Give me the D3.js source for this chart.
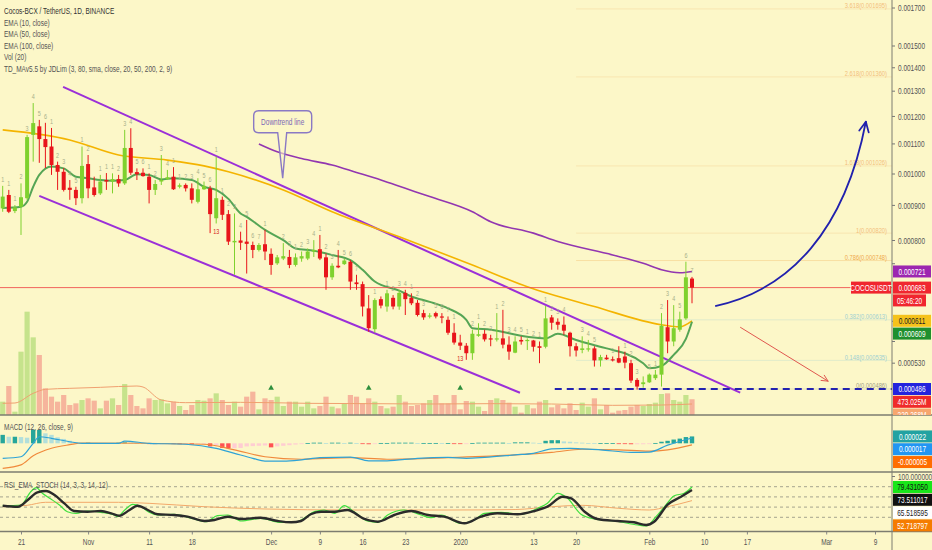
<!DOCTYPE html>
<html><head><meta charset="utf-8">
<script src="https://cdn.jsdelivr.net/npm/d3@7"></script>
<style>
html,body{margin:0;padding:0;background:#fcf7c8;}
svg{display:block;font-family:"Liberation Sans",Arial,sans-serif;}
</style></head><body>
<svg id="chart" width="932" height="550"></svg>
<script>
// ================= DATA =================
const U = 1e-6;                 // prices / MACD below are in millionths of USDT
const firstCandle = "2019-10-18"; // daily candles, one per day
const open  = [891,932,883,896,922,1132,1163,1117,1091,1029,1007,955,948,922,1032,956,937,980,975,983,969,1086,1006,1004,991,948,975,983,991,958,964,953,911,950,953,862,917,874,795,800,797,788,775,790,765,741,753,757,737,753,753,771,777,756,707,735,739,745,695,691,637,594,657,641,660,641,671,660,649,627,620,627,620,613,587,568,562,548,581,585,576,574,576,564,549,573,571,572,561,560,618,609,603,587,561,554,555,557,535,540,537,539,542,530,501,494,497,504,510,598,570,593,616,704];
const high  = [961,948,901,969,1132,1252,1187,1176,1157,1040,1019,980,958,1091,1062,991,997,1003,1002,997,1150,1156,1018,1018,1002,980,1062,1013,1022,969,969,969,986,975,961,1057,927,886,876,824,857,797,793,829,779,762,793,775,766,771,779,801,815,766,741,775,753,749,713,697,666,659,663,678,666,678,678,670,655,634,627,630,627,620,606,583,567,593,606,593,583,627,634,580,580,580,576,573,570,642,623,616,620,589,567,580,573,561,545,545,542,561,551,536,504,507,512,518,627,655,644,630,745,708];
const low   = [881,877,877,815,917,1040,1036,1019,997,948,943,917,901,906,922,927,932,948,937,958,964,997,980,991,906,932,964,980,948,953,943,906,906,948,820,847,857,788,713,775,716,754,771,749,713,737,749,729,733,745,749,757,749,678,701,729,737,678,678,620,589,587,637,630,635,634,623,644,620,613,616,616,606,583,564,554,536,536,579,570,561,570,557,536,548,564,554,551,530,557,593,593,583,542,542,548,551,524,524,536,533,530,521,496,485,488,496,501,490,548,561,589,613,648];
const close = [927,881,894,925,1124,1175,1117,1089,1029,1007,948,948,922,1026,953,932,975,975,983,969,1086,1004,999,993,948,967,980,989,950,963,953,917,950,961,874,922,872,797,799,794,791,775,788,771,737,756,759,737,756,759,771,775,753,707,735,731,748,697,691,641,596,655,643,670,641,671,657,648,623,618,622,620,618,587,568,562,548,585,584,574,574,576,564,551,570,570,573,560,558,616,607,603,591,561,553,557,557,535,541,537,535,531,531,500,490,497,510,510,601,570,596,614,707,683];
const volumeM = [400,870,100,1900,3100,2330,1800,800,550,400,600,300,350,450,500,430,200,430,500,300,930,600,270,200,500,450,470,350,400,270,150,300,450,430,500,650,450,300,400,250,550,700,170,500,450,550,270,400,400,250,400,200,270,550,250,200,350,600,550,350,500,400,270,200,250,600,400,270,300,350,450,600,350,350,600,170,420,400,250,120,450,500,450,370,250,70,300,200,400,450,230,300,200,350,150,370,250,500,170,300,70,130,150,250,300,270,330,370,630,650,450,400,600,473.025];
// indicator lines read at [candle index, value]
const ema10  = [[0,892],[3,896],[4,911],[5,958],[6,997],[8,1024],[10,1018],[12,991],[14,986],[16,980],[18,978],[20,980],[22,999],[24,997],[26,982],[28,986],[31,980],[33,958],[35,948],[37,920],[39,876],[40,866],[43,829],[46,801],[48,779],[51,773],[54,762],[57,749],[59,725],[61,697],[65,676],[67,663],[70,651],[73,637],[76,613],[77,596],[80,593],[86,579],[89,576],[91,585],[94,573],[97,563],[100,554],[102,548],[105,530],[106,521],[108,525],[110,545],[112,575],[113,609]];
const ema50  = [[0,1150],[11,1114],[19,1062],[27,1045],[33,1026],[37,1007],[46,948],[54,881],[65,810],[77,737],[86,685],[97,641],[108,603],[111,599],[113,611]];
const ema100 = [[42,1100],[45,1073],[49,1050],[54,1029],[58,1005],[62,980],[66,953],[70,927],[77,881],[80,852],[87,820],[91,797],[100,762],[105,741],[108,725],[111,718],[113,721]];
const volMA  = [[0,350],[2,360],[5,650],[7,770],[11,800],[16,830],[22,870],[23,840],[26,450],[30,370],[39,380],[50,350],[60,340],[70,330],[80,340],[90,330],[100,290],[108,300],[113,330]];
const macdHist = [27,21,21,20,18,43,43,32,27,19,14,8,3,1,2,1,0.5,0.5,1,2,3,2,1,0.5,-1,-2,-1,-1,-2,-3,-3,-4,-2,-2,-10,-6,-15,-16,-16,-15,-10,-9,-8,-7,-13,-10,-8,-6,-4,-2,1,2,2,1,2,2,1,2,1,-1,-3,-1,1,1,2,2,2,2,1,1,1,1,0.5,0.5,-1,-2,-2,1,2,2,2,2,2,1,3,3,3,2,1,8,10,10,6,5,3,2,1,0.5,0.5,0.5,0.5,-0.5,-1,-3,-3,-3,-1,1,5,8,12,15,20,22];
const macdLine = [[0,-48],[3,-43],[5,0],[6,21],[8,16],[11,5],[13,0],[19,0],[20,7],[24,0],[30,-3],[35,-16],[38,-32],[41,-48],[43,-57],[46,-57],[49,-53],[52,-46],[57,-44],[60,-56],[63,-56],[68,-48],[73,-45],[76,-48],[79,-45],[84,-37],[87,-32],[90,-18],[93,-16],[95,-18],[98,-21],[103,-29],[106,-28],[109,-6],[113,17]];
const macdSignal = [[0,-80],[3,-69],[5,-40],[8,-16],[11,-4.5],[13,1],[33,-3],[38,-21],[43,-43],[49,-51],[57,-46],[63,-51],[73,-46],[84,-37],[90,-29],[95,-19],[101,-21],[106,-25],[109,-21],[113,-5]];
const rsiK = [[0,42.7],[3,44.1],[4.6,70.2],[5.5,78],[6.5,67],[7.9,55.9],[9.3,44.1],[10.6,31],[12,27.8],[13.9,32.4],[16.1,29.8],[18.3,24.5],[18.8,21.2],[20,34.3],[21.3,45.5],[22.7,40.8],[24,29.8],[25.4,24.5],[28.1,25.9],[31.4,16.7],[33.3,11.4],[35.2,23.1],[36.9,24.5],[39.1,12.7],[42.3,18],[45.6,10.2],[47.8,10.2],[49.4,18],[51.1,31],[52.7,34.3],[54.4,27.8],[56,42.7],[57.6,31],[59.8,12.7],[61.5,10.2],[63.1,24.5],[65.8,34.3],[68.6,24.5],[70.2,19.2],[71.9,24.5],[75.1,8.2],[77.3,14.7],[79,27.8],[81.7,29.8],[85,25.9],[87.7,37.6],[89.3,47.4],[91,67],[92.6,57.3],[94.8,25.9],[97,16.7],[100.3,12.7],[104.1,4.9],[105.5,2.9],[107.1,21.2],[108.5,40.8],[110.1,62.4],[111.7,67],[113,79.4]];
const rsiD = [[0,42.7],[2.5,40.8],[4.1,53.9],[5.7,69],[7.1,71.6],[8.5,63.7],[10.1,47.4],[11.7,32.4],[13.9,31],[16.1,32.4],[17.8,27.8],[19.1,23.1],[20.8,34.3],[22.1,42.7],[23.8,34.3],[25.4,25.9],[28.1,24.5],[30.3,21.2],[33.1,12.7],[34.7,14.7],[36.9,21.2],[39.1,16.7],[42.3,19.2],[45.1,12.7],[47.3,10.2],[48.9,12.7],[50.5,25.9],[52.2,31],[54.4,31],[56.5,34.3],[59.3,16.7],[61.5,11.4],[64.2,24.5],[67,32.4],[69.7,24.5],[72.4,21.2],[75.7,8.2],[78.4,21.2],[81.1,27.8],[84.4,25.9],[87.2,32.4],[89.3,40.8],[91.8,60.4],[93.2,57.3],[95.4,31],[97.5,16.7],[100.8,12.7],[103.5,10.2],[105.5,4.9],[106.8,11.4],[109,44.7],[111.2,60.4],[113,73.5]];
const rsiSlow = [[0,40.8],[4,43.5],[7,49.4],[11,49.4],[19,49.4],[24,47.4],[33,40.8],[43,36.3],[57,34.3],[73,34.3],[84,35.2],[90,40.8],[95,43.5],[101,37.6],[106,34.3],[109,40.8],[113,52.7]];
const rsiLevels = [80,60,40,20];
const rsiBadgeValues = [79.43105,73.511017,65.518595,52.718797];
// TD sequential counts above candles [index, label]; red 13s below
const tdAbove = [[0,"1"],[1,"1"],[2,"1"],[3,"2"],[4,"3"],[5,"4"],[6,"5"],[7,"6"],[8,"1"],[9,"2"],[10,"3"],[11,"4"],[12,"5"],[13,"1"],[14,"2"],[16,"1"],[17,"1"],[18,"1"],[19,"2"],[20,"3"],[21,"4"],[22,"5"],[23,"6"],[24,"1"],[25,"2"],[26,"3"],[27,"4"],[28,"1"],[29,"1"],[30,"2"],[31,"3"],[32,"4"],[33,"5"],[34,"6"],[35,"1"],[36,"1"],[37,"2"],[38,"3"],[39,"4"],[40,"5"],[41,"6"],[42,"7"],[43,"1"],[46,"2"],[47,"3"],[48,"1"],[49,"2"],[50,"3"],[51,"4"],[52,"1"],[53,"2"],[54,"3"],[55,"4"],[56,"5"],[57,"6"],[58,"7"],[61,"1"],[63,"1"],[64,"2"],[65,"3"],[66,"4"],[67,"1"],[68,"2"],[69,"3"],[71,"5"],[72,"6"],[73,"7"],[74,"1"],[77,"2"],[78,"1"],[79,"2"],[80,"3"],[81,"1"],[82,"2"],[83,"3"],[84,"4"],[85,"5"],[86,"1"],[87,"2"],[88,"1"],[89,"1"],[90,"2"],[91,"3"],[92,"4"],[95,"3"],[96,"4"],[97,"5"],[100,"1"],[102,"1"],[103,"2"],[104,"3"],[106,"5"],[107,"1"],[108,"2"],[109,"3"],[110,"4"],[111,"5"],[112,"6"],[113,"7"]];
const tdBelowRed = [[35,"13"],[75,"13"]];
const buySignals = [44,60,75];
// drawings: [candle index, price in millionths]
const upperChannel = [[9.9,1318],[120.9,480]];
const lowerChannel = [[6.0,929],[84.8,480]];
const bullArc = [[116.8,642],[129.1,678],[138.1,829],[141.5,1180]];
const bearArrow = [[120.9,598],[135.3,499]];
const supportStart = [90.5,486];
const calloutTip = [45.9,986], calloutBox = [45.9,1180];
const calloutText = "Downtrend line";
const fibLevels = [3.618,2.618,1.618,1,0.786,0.382,0.148,0];
const fibPrices = [1695,1360,1026,820,748,613,535,486];
const fibStart = 94;
const priceTicks = [1700,1500,1400,1300,1200,1100,1000,900,800,740,610,570,530];
const dateTicks = ["2019-10-21","2019-11-01","2019-11-11","2019-11-18","2019-12-01","2019-12-09","2019-12-16","2019-12-23","2020-01-01","2020-01-13","2020-01-20","2020-02-01","2020-02-10","2020-02-17","2020-03-01","2020-03-09"];
const dateLabels = ["21","Nov","11","18","Dec","9","16","23","2020","13","20","Feb","10","17","Mar","9"];
const legendLines = ["Cocos-BCX / TetherUS, 1D, BINANCE","EMA (10, close)","EMA (50, close)","EMA (100, close)","Vol (20)","TD_MAv5.5 by JDLim (3, 80, sma, close, 20, 50, 200, 2, 9)"];

// ================= CHART =================
const W=932,H=550,R=892,MAIN_B=415,MACD_B=472,RSI_B=531.5;
const BG="#fcf7c8", GREEN="#7fd12e", RED="#e8151b", FS=9;
const parse = d3.utcParse("%Y-%m-%d");
const t0 = parse(firstCandle).getTime();
const dayOf = i => new Date(t0 + i*864e5);
const svg = d3.select("#chart");
svg.append("rect").attr("width",W).attr("height",H).attr("fill",BG);
const defs = svg.append("defs");
function clip(id,y0,y1,w){defs.append("clipPath").attr("id",id).append("rect").attr("x",0).attr("y",y0).attr("width",w||R).attr("height",y1-y0);}
clip("cMain",0,MAIN_B); clip("cMacd",MAIN_B,MACD_B); clip("cRsi",MACD_B,RSI_B); clip("cBadgeMain",0,MAIN_B,W);

const x = d3.scaleUtc().domain([parse("2019-10-21"),parse("2020-03-09")]).range([21,875]);
const y = d3.scaleLog().domain([486*U,1000*U,1500*U,1700*U]).range([389,174,46,8]);
const yVol = d3.scaleLinear().domain([0,3000]).range([MAIN_B,315]);
const yMacd = d3.scaleLinear().domain([-80*U,80*U]).range([468.3,418.3]);
const yRsi = d3.scaleLinear().domain([0,100]).range([527.5,476.5]);
const X = i => x(dayOf(i));

const candles = open.map((o,i)=>({i,o:o*U,h:high[i]*U,l:low[i]*U,c:close[i]*U,v:volumeM[i]}));
const up = d => d.c >= d.o;

const main = svg.append("g").attr("clip-path","url(#cMain)");

// fib levels
fibLevels.forEach((lv,k)=>{
  const p=fibPrices[k]*U, col = lv>=1?"#f3c07c":(lv>0.5?"#efa94c":(lv>0?"#9fd0d2":"#a29f86"));
  main.append("line").attr("x1",X(fibStart)).attr("x2",R).attr("y1",y(p)).attr("y2",y(p)).attr("stroke",col).attr("stroke-opacity",0.3);
  main.append("text").attr("x",887).attr("y",y(p)-0.5).attr("text-anchor","end").attr("font-size",8).attr("fill",col).text(`${lv}(${p.toFixed(6)})`);
});

// volume
main.selectAll("rect.vol").data(candles).join("rect").attr("class","vol")
  .attr("x",d=>X(d.i)-2.6).attr("width",5.2).attr("y",d=>yVol(d.v)).attr("height",d=>MAIN_B-yVol(d.v))
  .attr("fill",d=>up(d)?"#c6e38c":"#f6b59c");
main.append("path").attr("d",d3.line().x(p=>X(p[0])).y(p=>yVol(p[1])).curve(d3.curveMonotoneX)(volMA))
  .attr("fill","none").attr("stroke","#f0a070").attr("stroke-width",1);
main.selectAll("path.sig").data(buySignals).join("path").attr("class","sig")
  .attr("d",()=>d3.symbol(d3.symbolTriangle,14)()).attr("transform",i=>`translate(${X(i)},388)`).attr("fill","#2e8f3c");

// channel lines
const seg = (a,b)=>`M${X(a[0])},${y(a[1]*U)}L${X(b[0])},${y(b[1]*U)}`;
[upperChannel,lowerChannel].forEach(c=>main.append("path").attr("d",seg(c[0],c[1])).attr("stroke","#9b2fd8").attr("stroke-width",2).attr("fill","none"));

// EMAs
const pline = d3.line().x(p=>X(p[0])).y(p=>y(p[1]*U)).curve(d3.curveMonotoneX);
main.append("path").attr("d",pline(ema100)).attr("fill","none").attr("stroke","#9236b0").attr("stroke-width",1.6);
main.append("path").attr("d",pline(ema50)).attr("fill","none").attr("stroke","#f4b400").attr("stroke-width",1.6);
main.append("path").attr("d",pline(ema10)).attr("fill","none").attr("stroke","#55a555").attr("stroke-width",2);

// current price line
const last = candles[candles.length-1];
main.append("line").attr("x1",0).attr("x2",R).attr("y1",y(last.c)).attr("y2",y(last.c)).attr("stroke","#ef4a4a").attr("stroke-width",1).attr("stroke-opacity",0.85);

// candles
const cg = main.selectAll("g.c").data(candles).join("g").attr("class","c");
cg.append("line").attr("x1",d=>X(d.i)).attr("x2",d=>X(d.i)).attr("y1",d=>y(d.h)).attr("y2",d=>y(d.l)).attr("stroke",d=>up(d)?GREEN:RED).attr("stroke-width",1);
cg.append("rect").attr("x",d=>X(d.i)-2).attr("width",4)
  .attr("y",d=>y(Math.max(d.o,d.c))).attr("height",d=>Math.max(1.2,Math.abs(y(d.o)-y(d.c)))).attr("fill",d=>up(d)?GREEN:RED);

// TD counts
main.selectAll("text.td").data(tdAbove).join("text").attr("class","td")
  .attr("x",d=>X(d[0])).attr("y",d=>y(candles[d[0]].h)-4).attr("text-anchor","middle").attr("font-size",7.5).attr("fill","#a7b08a").text(d=>d[1]);
main.selectAll("text.td13").data(tdBelowRed).join("text").attr("class","td13")
  .attr("x",d=>X(d[0])).attr("y",d=>y(candles[d[0]].l)+11).attr("text-anchor","middle").attr("font-size",7.5).attr("fill","#d42020").text(d=>d[1]);

// support dashed line
main.append("line").attr("x1",X(supportStart[0])).attr("x2",R).attr("y1",y(supportStart[1]*U)).attr("y2",y(supportStart[1]*U))
  .attr("stroke","#2323b0").attr("stroke-width",2).attr("stroke-dasharray","7,5");

// arrows
function arrowHead(g,tip,from,len,col,w){
  const a=Math.atan2(tip[1]-from[1],tip[0]-from[0]);
  [0.45,-0.45].forEach(s=>g.append("line").attr("x1",tip[0]).attr("y1",tip[1])
    .attr("x2",tip[0]-len*Math.cos(a+s)).attr("y2",tip[1]-len*Math.sin(a+s)).attr("stroke",col).attr("stroke-width",w).attr("stroke-linecap","round"));
}
const P = p=>[X(p[0]),y(p[1]*U)];
const arc = bullArc.map(P);
const ap = d3.path(); ap.moveTo(...arc[0]); ap.bezierCurveTo(...arc[1],...arc[2],...arc[3]);
main.append("path").attr("d",ap.toString()).attr("fill","none").attr("stroke","#2020ad").attr("stroke-width",1.8);
arrowHead(main,arc[3],arc[2],11,"#2020ad",1.8);
const ba = bearArrow.map(P);
main.append("line").attr("x1",ba[0][0]).attr("y1",ba[0][1]).attr("x2",ba[1][0]).attr("y2",ba[1][1]).attr("stroke","#e0574f").attr("stroke-width",1);
arrowHead(main,ba[1],ba[0],7,"#e0574f",1);

// callout
{
  const tip=P(calloutTip), c=P(calloutBox), bw=58,bh=22,r=5;
  const bx=c[0]-bw/2, by=c[1]-bh/2, bb=by+bh, br=bx+bw;
  const d=`M${bx+r},${by}H${br-r}Q${br},${by} ${br},${by+r}V${bb-r}Q${br},${bb} ${br-r},${bb}H${c[0]+4}L${tip[0]},${tip[1]}L${c[0]-5},${bb}H${bx+r}Q${bx},${bb} ${bx},${bb-r}V${by+r}Q${bx},${by} ${bx+r},${by}Z`;
  main.append("path").attr("d",d).attr("fill",BG).attr("fill-opacity",0.6).attr("stroke","#8a79c4").attr("stroke-width",1.4);
  main.append("text").attr("x",c[0]).attr("y",c[1]).attr("dy","0.35em").attr("text-anchor","middle").attr("font-size",FS).attr("fill","#7b68b6").text(calloutText);
}

// legend
svg.selectAll("text.leg").data(legendLines).join("text").attr("class","leg")
  .attr("x",4).attr("y",(d,i)=>14.5+i*11.5).attr("font-size",FS).attr("fill",(d,i)=>i===0?"#333":"#555").text(d=>d);

// ---------- MACD pane ----------
const mg = svg.append("g").attr("clip-path","url(#cMacd)");
mg.selectAll("rect").data(macdHist).join("rect")
  .attr("x",(v,i)=>X(i)-2.2).attr("width",4.4)
  .attr("y",v=>Math.min(yMacd(v*U),yMacd(0))).attr("height",v=>Math.max(0.8,Math.abs(yMacd(v*U)-yMacd(0))))
  .attr("fill",(v,i)=>{const p=i>0?macdHist[i-1]:v; return v>=0?(v>=p?"#26a69a":"#b2dfdb"):(v<p?"#ff5252":"#ffcdd2");});
const mline = d3.line().x(p=>X(p[0])).y(p=>yMacd(p[1]*U)).curve(d3.curveMonotoneX);
mg.append("path").attr("d",mline(macdSignal)).attr("fill","none").attr("stroke","#f08a3c").attr("stroke-width",1.2);
mg.append("path").attr("d",mline(macdLine)).attr("fill","none").attr("stroke","#2ea3d6").attr("stroke-width",1.2);
svg.append("text").attr("x",4).attr("y",430).attr("font-size",FS).attr("fill","#555").text("MACD (12, 26, close, 9)");

// ---------- RSI pane ----------
const rg = svg.append("g").attr("clip-path","url(#cRsi)");
rsiLevels.forEach(v=>rg.append("line").attr("x1",0).attr("x2",R).attr("y1",yRsi(v)).attr("y2",yRsi(v)).attr("stroke","#8f8f80").attr("stroke-dasharray","3,3").attr("stroke-width",0.8));
const rline = d3.line().x(p=>X(p[0])).y(p=>yRsi(p[1])).curve(d3.curveMonotoneX);
rg.append("path").attr("d",rline(rsiSlow)).attr("fill","none").attr("stroke","#f2a86a").attr("stroke-width",1);
rg.append("path").attr("d",rline(rsiK)).attr("fill","none").attr("stroke","#3fe03f").attr("stroke-width",1.2);
rg.append("path").attr("d",rline(rsiD)).attr("fill","none").attr("stroke","#2b2b2b").attr("stroke-width",2.4);
svg.append("text").attr("x",4).attr("y",488).attr("font-size",FS).attr("fill","#555").text("RSI_EMA_STOCH (14, 3, 3, 14, 12)");

// ---------- badges (positions stacked like the price scale does) ----------
function stack(items,gap){let prev=-1e9;items.forEach(it=>{it.cy=Math.max(it.y,prev+gap);prev=it.cy+(it.rows||0)*gap;});return items;}
function badge(g,cy,text,bg,fg,x0,w){
  g.append("rect").attr("x",x0).attr("y",cy-6).attr("width",w).attr("height",12).attr("fill",bg);
  g.append("text").attr("x",x0+w/2).attr("y",cy).attr("dy","0.35em").attr("text-anchor","middle").attr("font-size",FS).attr("fill",fg).text(text);
}
const GAP=12.8;
const ema100Last = ema100[ema100.length-1][1]*U, ema50Last = ema50[ema50.length-1][1]*U, ema10Last = ema10[ema10.length-1][1]*U;
const volMALast = 220.268;
const mainBadges = stack([
  {y:y(ema100Last),t:ema100Last.toFixed(6),bg:"#9c27b0",fg:"#fff"},
  {y:y(last.c),t:last.c.toFixed(6),bg:"#f0262f",fg:"#fff",rows:1,price:true},
  {y:y(ema50Last),t:ema50Last.toFixed(6),bg:"#f5c21b",fg:"#222"},
  {y:y(ema10Last),t:ema10Last.toFixed(6),bg:"#1f8f2e",fg:"#fff"},
  {y:y(supportStart[1]*U),t:(supportStart[1]*U).toFixed(6),bg:"#2323dd",fg:"#fff"},
  {y:yVol(last.v),t:last.v.toFixed(3)+"M",bg:"#ef2a2a",fg:"#fff"},
  {y:yVol(volMALast),t:volMALast.toFixed(3)+"M",bg:"#f7a66e",fg:"#fff"}
],GAP);
const lastHist = macdHist[macdHist.length-1]*U, lastMacd = macdLine[macdLine.length-1][1]*U, lastSig = macdSignal[macdSignal.length-1][1]*U;
const macdBadges = stack([
  {y:yMacd(lastHist),t:lastHist.toFixed(6),bg:"#22a2a2",fg:"#fff"},
  {y:yMacd(lastMacd),t:lastMacd.toFixed(6),bg:"#2196f3",fg:"#fff"},
  {y:yMacd(lastSig),t:lastSig.toFixed(6),bg:"#ff6d00",fg:"#fff"}
],GAP);
const rsiCols = [["#19e619","#111"],["#111","#fff"],["#ffffff","#222"],["#f57c00","#fff"]];
const rsiBadges = stack(rsiBadgeValues.map((v,k)=>({y:yRsi(v),t:v.toFixed(6),bg:rsiCols[k][0],fg:rsiCols[k][1]})),GAP);
const badgeYs = mainBadges.flatMap(b=>b.price?[b.cy,b.cy+GAP]:[b.cy]);

// ---------- axes ----------
const ax = svg.append("g");
priceTicks.forEach(v=>{
  const yy=y(v*U);
  ax.append("line").attr("x1",R).attr("x2",R+3).attr("y1",yy).attr("y2",yy).attr("stroke","#777");
  if(badgeYs.some(b=>Math.abs(b-yy)<8)) return;   // label hidden behind a badge
  ax.append("text").attr("x",R+6).attr("y",yy).attr("dy","0.35em").attr("font-size",FS).attr("fill","#555").text((v*U).toFixed(6));
});
ax.append("line").attr("x1",R).attr("x2",R+3).attr("y1",yRsi(100)).attr("y2",yRsi(100)).attr("stroke","#777");
ax.append("text").attr("x",R+6).attr("y",yRsi(100)).attr("dy","0.35em").attr("font-size",FS).attr("fill","#555").text((100).toFixed(6));

const xAxis = d3.axisBottom(x).tickValues(dateTicks.map(parse)).tickFormat((d,i)=>dateLabels[i]).tickSize(3).tickPadding(4);
const xg = svg.append("g").attr("transform",`translate(0,${RSI_B})`).call(xAxis);
xg.select(".domain").remove();
xg.selectAll("line").attr("stroke","#888");
xg.selectAll("text").attr("font-size",FS).attr("fill","#555").attr("font-family","Liberation Sans, Arial");

// separators
[MAIN_B,MACD_B,RSI_B].forEach(v=>svg.append("line").attr("x1",0).attr("x2",W).attr("y1",v).attr("y2",v).attr("stroke","#7c7c70").attr("stroke-width",1.3));
svg.append("line").attr("x1",R).attr("x2",R).attr("y1",0).attr("y2",H).attr("stroke","#7c7c70").attr("stroke-width",1);

// draw badges on top
const mainBadgeG = svg.append("g").attr("clip-path","url(#cBadgeMain)");
mainBadges.forEach(b=>{
  badge(mainBadgeG,b.cy,b.t,b.bg,b.fg,R+1,38);
  if(b.price){
    badge(mainBadgeG,b.cy,"COCOSUSDT",b.bg,"#fff",R-41,40);
    badge(mainBadgeG,b.cy+GAP,"05:46:20",b.bg,"#fff",R+1,33);
  }
});
macdBadges.forEach(b=>badge(svg,b.cy,b.t,b.bg,b.fg,R+1,39));
rsiBadges.forEach(b=>badge(svg,b.cy,b.t,b.bg,b.fg,R+1,39));

// condensed look of the original screenshot's UI font (horizontal squeeze about each text's anchor)
svg.selectAll("text").each(function(){
  const xa = +(this.getAttribute("x")||0);
  this.setAttribute("transform",`translate(${xa},0) scale(0.72,1) translate(${-xa},0)`);
});
</script>
</body></html>
